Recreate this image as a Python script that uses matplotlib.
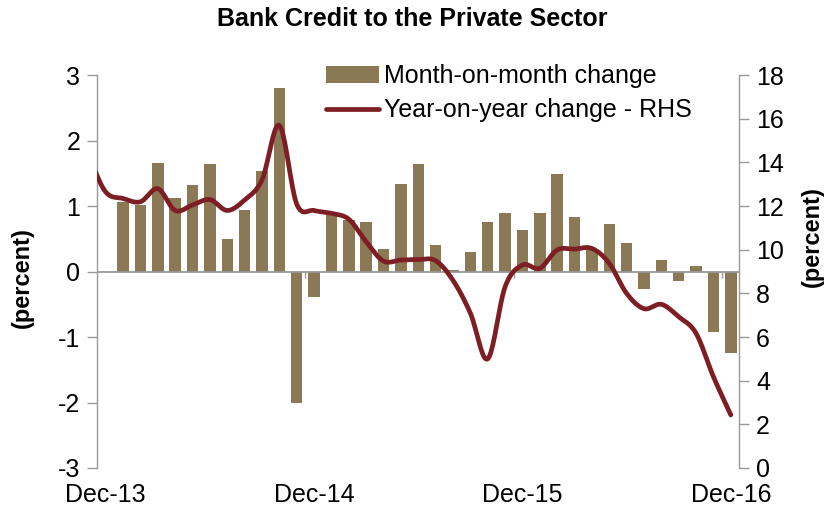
import numpy as np
import matplotlib
matplotlib.use("Agg")
import matplotlib.pyplot as plt
from matplotlib.patches import Patch
from matplotlib.lines import Line2D

plt.rcParams['font.family'] = ['Liberation Sans', 'DejaVu Sans']
plt.rcParams['axes.unicode_minus'] = False

# Months Dec-13 .. Dec-16 (37 categories)
months = ["Dec-13", "Jan-14", "Feb-14", "Mar-14", "Apr-14", "May-14", "Jun-14", "Jul-14",
          "Aug-14", "Sep-14", "Oct-14", "Nov-14", "Dec-14", "Jan-15", "Feb-15", "Mar-15",
          "Apr-15", "May-15", "Jun-15", "Jul-15", "Aug-15", "Sep-15", "Oct-15", "Nov-15",
          "Dec-15", "Jan-16", "Feb-16", "Mar-16", "Apr-16", "May-16", "Jun-16", "Jul-16",
          "Aug-16", "Sep-16", "Oct-16", "Nov-16", "Dec-16"]

# Month-on-month change (percent, LHS); Dec-13 not shown
mom = [np.nan, 1.07, 1.02, 1.66, 1.12, 1.33, 1.64, 0.50, 0.94, 1.53, 2.80, -2.01, -0.39,
       0.91, 0.79, 0.75, 0.35, 1.34, 1.65, 0.41, 0.02, 0.30, 0.76, 0.90, 0.63, 0.90,
       1.49, 0.84, 0.35, 0.73, 0.43, -0.27, 0.17, -0.15, 0.09, -0.93, -1.24]

# Year-on-year change (percent, RHS); preceded by Nov-13 value
yoy_nov13 = 14.3
yoy = [12.65, 12.35, 12.2, 12.8, 11.8, 12.05, 12.3, 11.8, 12.28, 13.2, 15.7, 12.1, 11.8,
       11.67, 11.4, 10.37, 9.48, 9.53, 9.55, 9.5, 8.6, 7.1, 5.0, 8.3, 9.3, 9.15,
       9.99, 10.03, 10.06, 9.38, 8.0, 7.3, 7.5, 6.93, 6.17, 4.18, 2.43]

title = "Bank Credit to the Private Sector"
ylabel = "(percent)"
leg_bar = "Month-on-month change"
leg_line = "Year-on-year change - RHS"
xtick_labels = ["Dec-13", "Dec-14", "Dec-15", "Dec-16"]
left_ticks = [-3, -2, -1, 0, 1, 2, 3]
right_ticks = [0, 2, 4, 6, 8, 10, 12, 14, 16, 18]

bar_color = "#8b7855"
line_color = "#7d1e24"
axis_gray = "#999999"
FS = 18


def catmull_rom(x, y, n=20):
    x = np.asarray(x, float)
    y = np.asarray(y, float)
    px = np.concatenate([[2 * x[0] - x[1]], x, [2 * x[-1] - x[-2]]])
    py = np.concatenate([[2 * y[0] - y[1]], y, [2 * y[-1] - y[-2]]])
    xs, ys = [], []
    t = np.linspace(0, 1, n, endpoint=False)
    for i in range(1, len(px) - 2):
        for P, out in ((px, xs), (py, ys)):
            p0, p1, p2, p3 = P[i - 1], P[i], P[i + 1], P[i + 2]
            out.append(0.5 * ((2 * p1) + (-p0 + p2) * t
                              + (2 * p0 - 5 * p1 + 4 * p2 - p3) * t ** 2
                              + (-p0 + 3 * p1 - 3 * p2 + p3) * t ** 3))
    xs.append([x[-1]])
    ys.append([y[-1]])
    return np.concatenate(xs), np.concatenate(ys)


fig = plt.figure(figsize=(8.32, 5.15), dpi=100)
ax = fig.add_axes([0.1166, 0.0913, 0.7722, 0.7627])
ax2 = ax.twinx()

x = np.arange(len(months))
ax.bar(x, mom, width=0.66, color=bar_color, zorder=2)
ax.axhline(0, color=axis_gray, lw=1.3, zorder=3)
for k in (12, 24, 36):
    ax.vlines(k - 0.5, -0.1, 0, color=axis_gray, lw=1.0, zorder=3)

ax.set_xlim(-0.5, len(months) - 0.5)
ax.set_ylim(-3, 3)
ax.set_yticks(left_ticks)
ax.set_yticklabels([str(v) for v in left_ticks])
ax.set_xticks([0, 12, 24, 36])
ax.set_xticklabels(xtick_labels)
ax.tick_params(axis='x', length=0, pad=11, labelsize=FS)
ax.tick_params(axis='y', direction='out', length=7, color=axis_gray, width=1.0,
               labelsize=FS, pad=5)

xl = np.concatenate([[-1], x])
yl = np.concatenate([[yoy_nov13], yoy])
sx, sy = catmull_rom(xl, yl)
ax2.plot(sx, sy, color=line_color, lw=3.4, solid_capstyle='round', zorder=4)
ax2.set_ylim(0, 18)
ax2.set_yticks(right_ticks)
ax2.set_yticklabels([str(v) for v in right_ticks])
ax2.tick_params(axis='y', direction='out', length=7, color=axis_gray, width=1.0,
                labelsize=FS, pad=5)
ax2.set_xlim(-0.5, len(months) - 0.5)

for a in (ax, ax2):
    a.spines['top'].set_visible(False)
    a.spines['bottom'].set_visible(False)
    a.spines['left'].set_color(axis_gray)
    a.spines['right'].set_color(axis_gray)
    a.spines['left'].set_linewidth(1.0)
    a.spines['right'].set_linewidth(1.0)
ax.spines['right'].set_visible(False)
ax2.spines['left'].set_visible(False)

fig.text(22 / 832, 1 - 277.5 / 515, ylabel, rotation=90, ha='center', va='center',
         fontsize=17, fontweight='bold')
fig.text(812 / 832, 1 - 236.5 / 515, ylabel, rotation=90, ha='center', va='center',
         fontsize=17, fontweight='bold')

fig.text(0.495, 1 - 19 / 515, title, ha='center', va='center', fontsize=18,
         fontweight='bold')

handles = [Patch(facecolor=bar_color, edgecolor='none'),
           Line2D([0], [0], color=line_color, lw=3.4, solid_capstyle='round')]
leg = fig.legend(handles, [leg_bar, leg_line], loc='upper left',
                 bbox_to_anchor=(326 / 832, 1 - 64 / 515), frameon=False, fontsize=FS,
                 handlelength=2.1, handleheight=0.65, handletextpad=0.2,
                 labelspacing=0.42, borderaxespad=0, borderpad=0)

fig.savefig("out.png", dpi=100)
